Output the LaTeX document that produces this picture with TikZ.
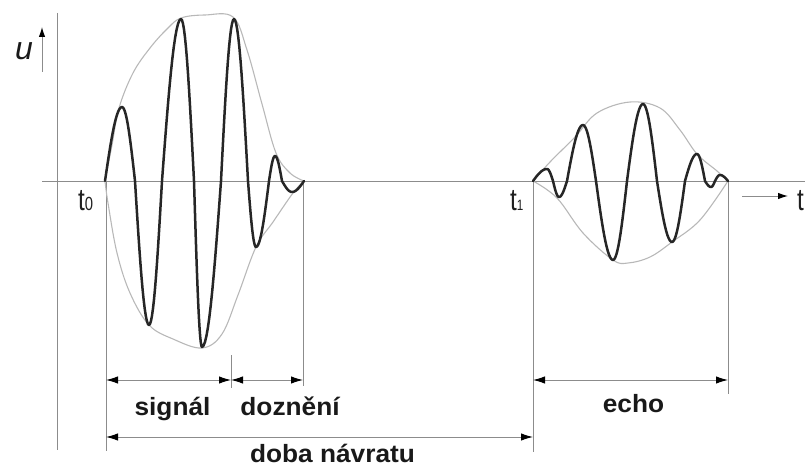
\documentclass[tikz,border=0pt]{standalone}
\usepackage{fontspec}
\setmainfont{Liberation Sans}
\newfontfamily\labfont{Liberation Sans Bold}[FakeStretch=1.05]
\newfontfamily\tfont{Liberation Sans}[FakeStretch=0.78]
\usetikzlibrary{arrows.meta}
\begin{document}
\begin{tikzpicture}[x=1pt,y=-1pt,
  wave/.style={draw=black!85, line width=2.5pt, line join=round, line cap=round},
  env/.style={draw=black!28, line width=1.1pt},
  axisline/.style={draw=black!45, line width=1pt},
  guide/.style={draw=black!45, line width=0.9pt},
  tipb/.tip={Latex[length=12pt,width=7.5pt,color=black]},
  dim/.style={draw=black!45, line width=1pt, tipb-tipb},
  lab/.style={font=\labfont\fontsize{25}{28}\selectfont, text=black!90, inner sep=0pt, anchor=base},
  tlab/.style={font=\tfont\fontsize{31}{34}\selectfont, text=black!88, inner sep=0pt, anchor=base west},
  ulab/.style={font=\itshape\fontsize{32}{34}\selectfont, text=black!90, inner sep=0pt, anchor=base}
]
\useasboundingbox (0,0) rectangle (805,468);
% axes
\coordinate (ytop) at (57,13); \coordinate (ybot) at (57,450);
\coordinate (xl) at (42,181); \coordinate (xr) at (805,181);
\draw[axisline] (ytop) -- (ybot);
\draw[axisline] (xl) -- (xr);
% guide lines
\coordinate (t0a) at (106,181); \coordinate (t0b) at (106,451);
\coordinate (sea) at (303,181); \coordinate (seb) at (303,386);
\coordinate (mida) at (231,355); \coordinate (midb) at (231,388);
\coordinate (t1a) at (533,181); \coordinate (t1b) at (533,452);
\coordinate (eea) at (728,181); \coordinate (eeb) at (728,394);
\draw[guide] (t0a) -- (t0b);
\draw[guide] (sea) -- (seb);
\draw[guide] (mida) -- (midb);
\draw[guide] (t1a) -- (t1b);
\draw[guide] (eea) -- (eeb);
% envelopes
\draw[env] plot[smooth, tension=0.6] coordinates {(105,181) (112,145) (119,108) (133,73) (150,48) (167,29) (181,18) (205,15) (233,17) (247,50) (262,104) (276,153) (290,173) (304,181)};
\draw[env] plot[smooth, tension=0.6] coordinates {(105,181) (108,203) (117,253) (130,293) (149,325) (173,339) (202,348) (222,334) (238,295) (256,247) (273,222) (293,193) (304,181)};
\draw[env] plot[smooth, tension=0.6] coordinates {(533,181) (550,162) (575,137) (597,113) (630,102) (660,108) (680,130) (697,154) (717,171) (728,181)};
\draw[env] plot[smooth, tension=0.6] coordinates {(533,181) (557,198) (583,233) (613,260) (628,263) (650,257) (672,242) (700,220) (728,181)};
% signal wave
\draw[wave] (105,181) \foreach \qa/\qp/\qb/\qy in {105/122/135/107, 135/149/162/325, 162/181/194/19, 194/202/221/347, 221/234/248/19, 248/256/269/247, 269/275/282/156, 282/292/304/192} { -- plot[domain=0:90,samples=14] ({\qa+(\qp-\qa)*\x/90},{181+(\qy-181)*sin(\x)}) -- plot[domain=90:180,samples=14] ({\qp+(\qb-\qp)*(\x-90)/90},{181+(\qy-181)*sin(\x)}) };
% echo wave
\draw[wave] (533,181) \foreach \qa/\qp/\qb/\qy in {533/547/553/169, 553/559/567/197, 567/583/596/125, 596/613/627/260, 627/643/657/104, 657/672/685/242, 685/697/705/154, 705/711/715/187, 715/720/728/175} { -- plot[domain=0:90,samples=14] ({\qa+(\qp-\qa)*\x/90},{181+(\qy-181)*sin(\x)}) -- plot[domain=90:180,samples=14] ({\qp+(\qb-\qp)*(\x-90)/90},{181+(\qy-181)*sin(\x)}) };
% dimension lines
\coordinate (d1l) at (106,380); \coordinate (d1m) at (231,380); \coordinate (d1r) at (303,380);
\coordinate (e1l) at (533,380); \coordinate (e1r) at (728,380);
\coordinate (r1l) at (106,437); \coordinate (r1r) at (533,437);
\draw[dim] (d1l) -- (d1m);
\draw[dim] (d1m) -- (d1r);
\draw[dim] (e1l) -- (e1r);
\draw[dim] (r1l) -- (r1r);
% labels
\node[lab] (signal) at (172.5,415) {signál};
\node[lab] (dozneni) at (290,415) {doznění};
\node[lab] (echo) at (633.5,412) {echo};
\node[lab] (doba) at (332.5,462) {doba návratu};
% u axis label and arrow
\coordinate (ua) at (42,72); \coordinate (ub) at (42,27);
\draw[axisline, -{Latex[length=10pt,width=6.5pt,color=black]}] (ua) -- (ub);
\node[ulab] (u) at (24,60) {u};
% t labels
\node[tlab] (t0) at (78,210) {t{\fontsize{19}{20}\selectfont 0}};
\node[tlab] (t1) at (510,210) {t{\fontsize{15}{16}\selectfont 1}};
\coordinate (ta) at (742,196); \coordinate (tb) at (788,196);
\draw[axisline, -{Latex[length=10pt,width=6.5pt,color=black]}] (ta) -- (tb);
\node[tlab] (t) at (797,210) {t};
\end{tikzpicture}
\end{document}
